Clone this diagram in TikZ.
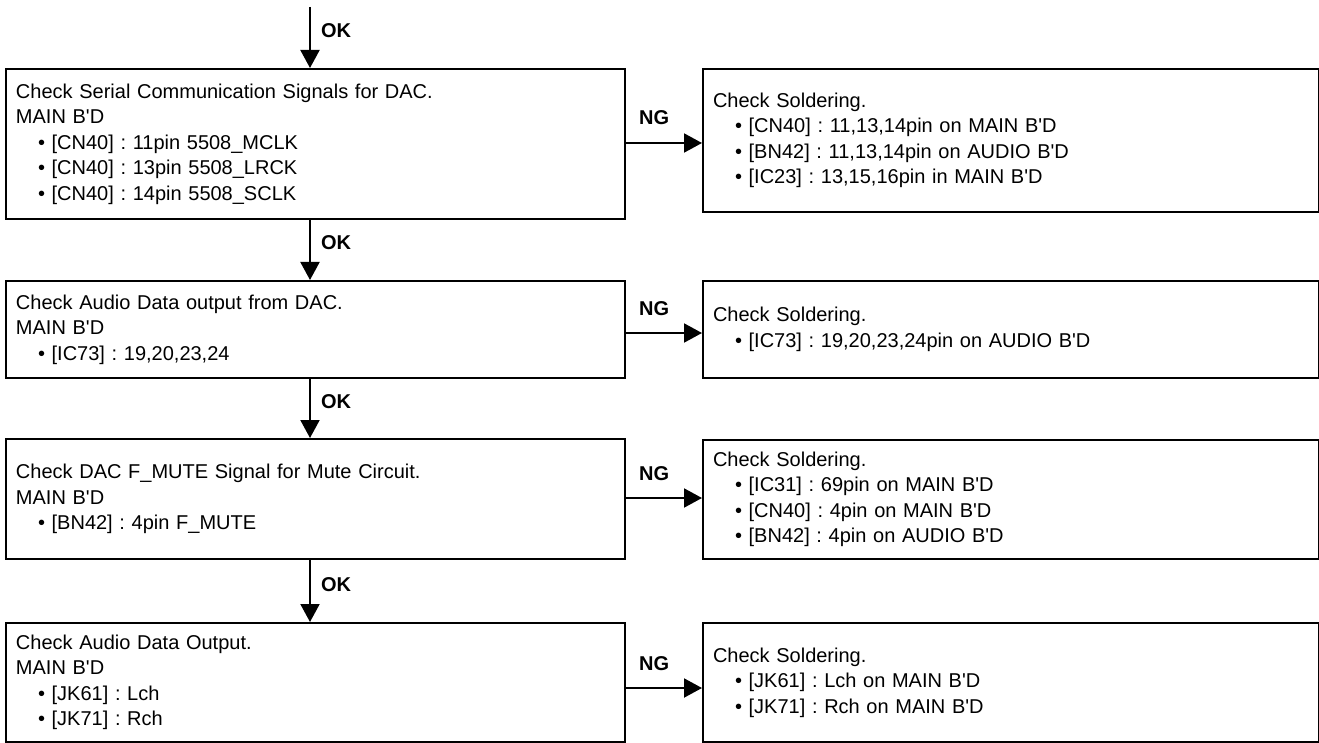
\documentclass[tikz,border=0pt]{standalone}
\usepackage{fontspec}
\newfontfamily\arialf{Liberation Sans}
\usetikzlibrary{arrows.meta}
\frenchspacing
\newcommand\itm{\hspace*{22pt}•\ }
\begin{document}
\frenchspacing
\begin{tikzpicture}[x=1pt,y=-1pt,
  box/.style={draw, line width=2pt, anchor=north west, inner xsep=10pt, inner ysep=0pt,
    align=left, font=\arialf\frenchspacing\fontsize{20}{25.5}\selectfont},
  lbox/.style={box, minimum width=619pt, text width=599pt},
  rbox/.style={box, minimum width=616pt, text width=596pt},
  arr/.style={line width=2pt, -{Triangle[length=18pt,width=19pt]}},
  lab/.style={font=\arialf\bfseries\fontsize{20}{24}\selectfont, inner sep=0pt}]
\useasboundingbox (0,0) rectangle (1319,743);

\node[lbox, minimum height=150pt] (L1) at (5,68) {Check Serial Communication Signals for DAC.\\
MAIN B'D\\
\itm [CN40] : 11pin 5508\_MCLK\\
\itm [CN40] : 13pin 5508\_LRCK\\
\itm [CN40] : 14pin 5508\_SCLK};
\node[rbox, minimum height=143pt] (R1) at (702,68) {Check Soldering.\\
\itm [CN40] : 11,13,14pin on MAIN B'D\\
\itm [BN42] : 11,13,14pin on AUDIO B'D\\
\itm [IC23] : 13,15,16pin in MAIN B'D};

\node[lbox, minimum height=97pt] (L2) at (5,280) {Check Audio Data output from DAC.\\
MAIN B'D\\
\itm [IC73] : 19,20,23,24};
\node[rbox, minimum height=97pt] (R2) at (702,280) {Check Soldering.\\
\itm [IC73] : 19,20,23,24pin on AUDIO B'D};

\node[lbox, minimum height=120pt] (L3) at (5,438) {Check DAC F\_MUTE Signal for Mute Circuit.\\
MAIN B'D\\
\itm [BN42] : 4pin F\_MUTE};
\node[rbox, minimum height=119pt] (R3) at (702,439) {Check Soldering.\\
\itm [IC31] : 69pin on MAIN B'D\\
\itm [CN40] : 4pin on MAIN B'D\\
\itm [BN42] : 4pin on AUDIO B'D};

\node[lbox, minimum height=119pt] (L4) at (5,622) {Check Audio Data Output.\\
MAIN B'D\\
\itm [JK61] : Lch\\
\itm [JK71] : Rch};
\node[rbox, minimum height=119pt] (R4) at (702,622) {Check Soldering.\\
\itm [JK61] : Lch on MAIN B'D\\
\itm [JK71] : Rch on MAIN B'D};

% OK arrows
\coordinate (top) at (310,7);
\draw[arr] (top) -- (top |- L1.north) node[lab, midway, anchor=base west, xshift=10pt] {OK};
\draw[arr] (top |- L1.south) -- (top |- L2.north) node[lab, midway, anchor=base west, xshift=10pt] {OK};
\draw[arr] (top |- L2.south) -- (top |- L3.north) node[lab, midway, anchor=base west, xshift=10pt] {OK};
\draw[arr] (top |- L3.south) -- (top |- L4.north) node[lab, midway, anchor=base west, xshift=10pt] {OK};

% NG arrows
\coordinate (n1) at ([yshift=1pt]L1.east);
\coordinate (n2) at ([yshift=-3.5pt]L2.east);
\coordinate (n3) at ([yshift=1pt]L3.east);
\coordinate (n4) at ([yshift=-5.5pt]L4.east);
\draw[arr] (n1) -- (n1 -| R1.west);
\draw[arr] (n2) -- (n2 -| R2.west);
\draw[arr] (n3) -- (n3 -| R3.west);
\draw[arr] (n4) -- (n4 -| R4.west);
\node[lab, anchor=base west] (g1) at ([xshift=13pt,yshift=18pt]n1) {NG};
\node[lab, anchor=base west] (g2) at ([xshift=13pt,yshift=18pt]n2) {NG};
\node[lab, anchor=base west] (g3) at ([xshift=13pt,yshift=18pt]n3) {NG};
\node[lab, anchor=base west] (g4) at ([xshift=13pt,yshift=18pt]n4) {NG};
\end{tikzpicture}
\end{document}
